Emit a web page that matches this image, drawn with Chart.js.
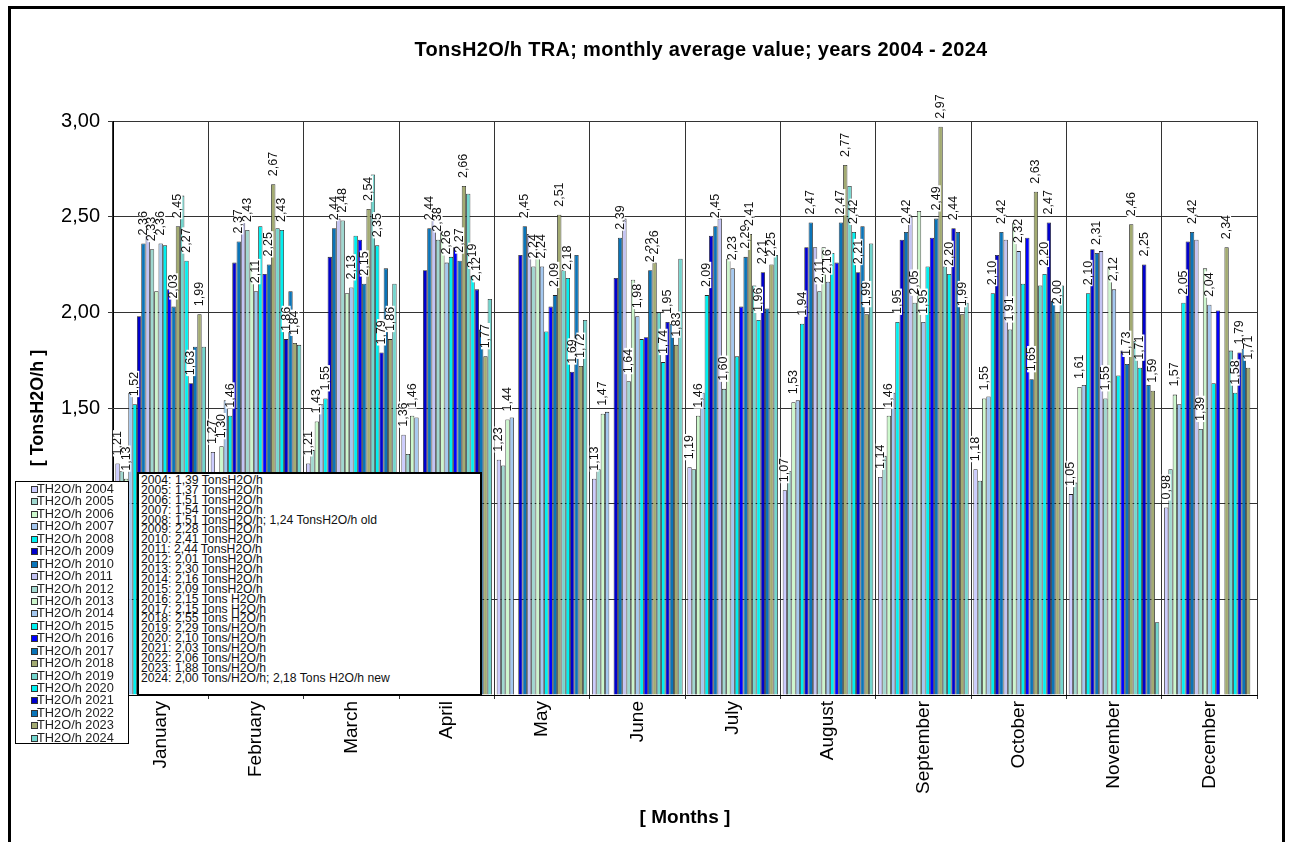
<!DOCTYPE html>
<html>
<head>
<meta charset="utf-8">
<script src="https://cdn.jsdelivr.net/npm/chart.js@4.4.1/dist/chart.umd.min.js"></script>
<style>
  body { margin: 0; background: #fff; font-family: Arial, "Liberation Sans", sans-serif; }
  #wrap { position: relative; width: 1293px; height: 842px; overflow: hidden; }
  #frame { position: absolute; left: 8px; top: 6px; width: 1271px; height: 900px; border: 3px solid #000; pointer-events: none; }
  #title { position: absolute; left: 701px; top: 38px; transform: translateX(-50%); font-weight: bold; font-size: 20px; letter-spacing: 0.3px; white-space: nowrap; color: #000; }
  #legend { position: absolute; left: 15px; top: 481px; width: 114px; height: 263px; border: 1px solid #000; background: #fff; box-sizing: border-box; padding-top: 1px; }
  #legend div { height: 12.45px; line-height: 12.45px; font-size: 12.8px; color: #222; white-space: nowrap; position: relative; padding-left: 21px; }
  #legend span { position: absolute; left: 15px; top: 3px; width: 5px; height: 5px; border: 1px solid #333; }
  #note { position: absolute; left: 137px; top: 472px; width: 345px; height: 224px; border: 2px solid #000; background: #fff; box-sizing: border-box; padding: 2px 0 0 2px; }
  #note div { height: 9.9px; line-height: 9.9px; font-size: 12.2px; color: #111; white-space: nowrap; }
</style>
</head>
<body>
<div id="wrap">
  <canvas id="chart" width="1293" height="842"></canvas>
  <div id="title">TonsH2O/h TRA; monthly average value; years 2004 - 2024</div>
  <div id="legend"></div>
  <div id="note"></div>
  <div id="frame"></div>
</div>
<script>
  const months = ['January', 'February', 'March', 'April', 'May', 'June', 'July', 'August', 'September', 'October', 'November', 'December'];
  const years = [2004, 2005, 2006, 2007, 2008, 2009, 2010, 2011, 2012, 2013, 2014, 2015, 2016, 2017, 2018, 2019, 2020, 2021, 2022, 2023, 2024];

  // monthly averages per year, Jan..Dec (null = no bar)
  const v2004 = [1.21, 1.27, 1.21, 1.36, 1.23, 1.13, 1.19, 1.07, 1.14, 1.18, 1.05, 0.98];
  const v2005 = [1.17, 1.14, 1.28, 1.26, 1.20, 1.18, 1.18, 1.17, 1.25, 1.12, 1.11, 1.18];
  const v2006 = [1.13, 1.30, 1.43, 1.46, 1.44, 1.47, 1.46, 1.53, 1.46, 1.55, 1.61, 1.57];
  const v2007 = [1.58, 1.54, 1.52, 1.45, 1.45, 1.48, 1.58, 1.54, 1.58, 1.56, 1.62, 1.52];
  const v2008 = [1.52, 1.46, 1.55, null, null, null, 2.09, 1.94, 1.95, 2.10, 2.10, 2.05];
  const v2009 = [1.98, 2.26, 2.29, 2.22, 2.30, 2.18, 2.40, 2.34, 2.38, 2.30, 2.33, 2.37];
  const v2010 = [2.36, 2.37, 2.44, 2.44, 2.45, 2.39, 2.45, 2.47, 2.42, 2.42, 2.31, 2.42];
  const v2011 = [2.45, 2.53, 2.49, 2.49, 2.41, 2.49, 2.49, 2.34, 2.50, 2.38, 2.32, 2.38];
  const v2012 = [2.33, 2.43, 2.48, 2.38, 2.24, 1.64, 1.60, 2.11, 2.05, 1.91, 1.55, 1.39];
  const v2013 = [2.11, 2.26, 2.10, 2.43, 2.30, 2.17, 2.28, 2.34, 2.53, 2.47, 2.24, 2.23];
  const v2014 = [2.36, 2.11, 2.13, 2.26, 2.24, 1.98, 2.23, 2.16, 1.95, 2.32, 2.12, 2.04];
  const v2015 = [2.35, 2.45, 2.40, 2.29, 1.90, 1.86, 1.77, 2.31, 2.24, 2.15, 1.67, 1.63];
  const v2016 = [2.12, 2.20, 2.38, 2.34, 2.03, 1.87, 2.03, 2.26, 2.39, 2.39, 1.80, 2.01];
  const v2017 = [2.03, 2.25, 2.15, 2.27, 2.09, 2.22, 2.29, 2.47, 2.49, 1.65, 1.73, null];
  const v2018 = [2.45, 2.67, 2.54, 2.66, 2.51, 2.26, 2.41, 2.77, 2.97, 2.63, 2.46, 2.34];
  const v2019 = [2.61, 2.44, 2.72, 2.62, 2.22, 2.00, 2.14, 2.66, 2.24, 2.14, 1.85, 1.80];
  const v2020 = [2.27, 2.43, 2.35, 2.19, 2.18, 1.74, 1.96, 2.42, 2.20, 2.20, 1.71, 1.58];
  const v2021 = [1.63, 1.86, 1.79, 2.12, 1.69, 1.95, 2.21, 2.21, 2.44, 2.47, 2.25, 1.79];
  const v2022 = [1.82, 2.11, 2.23, 1.91, 2.30, 1.94, 2.02, 2.45, 2.42, 2.06, 1.62, 1.81];
  const v2023 = [1.99, 1.84, 1.86, 1.77, 1.72, 1.83, 2.25, 1.99, 1.99, 2.00, 1.59, 1.71];
  const v2024 = [1.82, 1.83, 2.15, 2.07, 1.96, 2.28, 2.30, 2.36, 2.05, 2.14, 0.38, null];

  const seriesValues = [v2004, v2005, v2006, v2007, v2008, v2009, v2010, v2011, v2012, v2013, v2014,
    v2015, v2016, v2017, v2018, v2019, v2020, v2021, v2022, v2023, v2024];

  // years whose bars carry a value label
  const labelYears = [2004, 2006, 2008, 2010, 2012, 2014, 2017, 2018, 2020, 2021, 2023];

  const yTicks = [0, 0.5, 1, 1.5, 2, 2.5, 3];

  const yearNotes = [
    '2004: 1,39 TonsH2O/h',
    '2005: 1,37 TonsH2O/h',
    '2006: 1,51 TonsH2O/h',
    '2007: 1,54 TonsH2O/h',
    '2008: 1,51 TonsH2O/h; 1,24 TonsH2O/h old',
    '2009: 2,28 TonsH2O/h',
    '2010: 2,41 TonsH2O/h',
    '2011: 2,44 TonsH2O/h',
    '2012: 2,01 TonsH2O/h',
    '2013: 2,30 TonsH2O/h',
    '2014: 2,16 TonsH2O/h',
    '2015: 2,09 TonsH2O/h',
    '2016: 2,15 Tons H2O/h',
    '2017: 2,15 Tons H2O/h',
    '2018: 2,55 Tons H2O/h',
    '2019: 2,29 Tons/H2O/h',
    '2020: 2,10 Tons/H2O/h',
    '2021: 2,03 Tons/H2O/h',
    '2022: 2,06 Tons/H2O/h',
    '2023: 1,88 Tons/H2O/h',
    '2024: 2,00 Tons/H2O/h; 2,18 Tons H2O/h new'
  ];

  const colors = [
    '#CCCCFF', '#A0D8D0', '#CCF8CC', '#A4C8F0', '#00F0F0', '#0000CD', '#0A74B8',
    '#C4C4F4', '#A0D8D0', '#CCF5CC', '#A4C8F0', '#00F0F0', '#0000FF', '#0A74B8',
    '#A3AB72', '#72D6CE', '#00F0F0', '#0000CD', '#0A74B8', '#A3AB72', '#72D6CE'
  ];

  const fmt = v => v.toFixed(2).replace('.', ',');
  const FONT = 'Arial, "Liberation Sans", sans-serif';

  const barLabels = {
    id: 'barLabels',
    afterDatasetsDraw(chart) {
      const ctx = chart.ctx;
      ctx.save();
      ctx.font = '12.5px ' + FONT;
      ctx.textAlign = 'left';
      ctx.textBaseline = 'middle';
      chart.data.datasets.forEach((ds, i) => {
        if (!labelYears.includes(years[i])) return;
        chart.getDatasetMeta(i).data.forEach((bar, j) => {
          const v = ds.data[j];
          if (v == null) return;
          const txt = fmt(v);
          const w = ctx.measureText(txt).width;
          ctx.save();
          ctx.translate(bar.x, bar.y - 8);
          ctx.rotate(-Math.PI / 2);
          ctx.fillStyle = '#fff';
          ctx.fillRect(-1, -4.5, w + 2, 9);
          ctx.fillStyle = '#111';
          ctx.fillText(txt, 0, 0);
          ctx.restore();
        });
      });
      ctx.restore();
    }
  };

  const ctx = document.getElementById('chart').getContext('2d');

  const chart = new Chart(ctx, {
    type: 'bar',
    data: {
      labels: months,
      datasets: years.map((y, i) => ({
        label: 'TH2O/h ' + y,
        data: seriesValues[i],
        backgroundColor: colors[i],
        borderColor: '#222',
        borderWidth: 0.8,
        borderSkipped: 'start',
        categoryPercentage: 0.95,
        barPercentage: 1.0
      }))
    },
    options: {
      responsive: false,
      animation: false,
      layout: { padding: { top: 121, left: 23, right: 36, bottom: 9 } },
      plugins: {
        legend: { display: false },
        title: { display: false },
        tooltip: { enabled: false }
      },
      scales: {
        x: {
          afterFit: s => { s.height = 138; },
          grid: { color: '#333', lineWidth: 1, tickLength: 4, offset: true },
          border: { color: '#000', width: 1 },
          ticks: {
            color: '#000',
            font: { size: 19, family: FONT },
            maxRotation: 90,
            minRotation: 90,
            padding: 2,
            autoSkip: false
          },
          title: {
            display: true,
            text: '[ Months ]',
            color: '#000',
            font: { size: 19, weight: 'bold', family: FONT }
          }
        },
        y: {
          min: 0,
          max: 3,
          afterFit: s => { s.width = 90; },
          afterBuildTicks: s => { s.ticks = yTicks.map(v => ({ value: v })); },
          grid: { color: '#333', lineWidth: 1, tickLength: 5 },
          border: { color: '#000', width: 1 },
          ticks: {
            color: '#000',
            font: { size: 20, family: FONT },
            padding: 8,
            callback: v => fmt(v)
          },
          title: {
            display: true,
            text: '[ TonsH2O/h ]',
            color: '#000',
            font: { size: 18, weight: 'bold', family: FONT }
          }
        }
      }
    },
    plugins: [barLabels]
  });

  // series legend built from the chart's datasets
  const legendEl = document.getElementById('legend');
  chart.data.datasets.forEach(ds => {
    const row = document.createElement('div');
    const sw = document.createElement('span');
    sw.style.background = ds.backgroundColor;
    row.appendChild(sw);
    row.appendChild(document.createTextNode(ds.label));
    legendEl.appendChild(row);
  });

  const noteEl = document.getElementById('note');
  yearNotes.forEach(t => {
    const line = document.createElement('div');
    line.textContent = t;
    noteEl.appendChild(line);
  });
</script>
</body>
</html>
